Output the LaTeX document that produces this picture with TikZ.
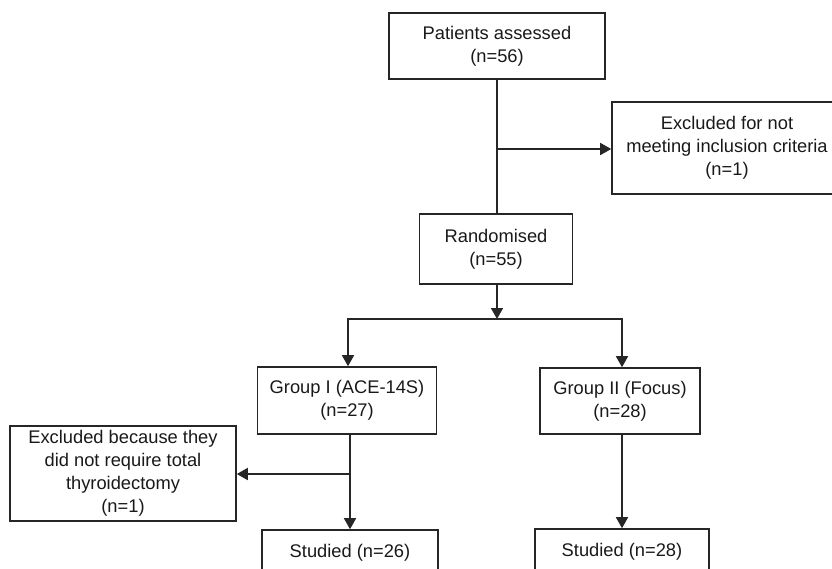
\documentclass[tikz,border=0pt]{standalone}
\usepackage{fontspec}
\setmainfont{Liberation Sans}
\usetikzlibrary{arrows.meta,calc}
\begin{document}
\begin{tikzpicture}[x=1pt,y=-1pt,
  box/.style={draw=black!85,line width=1.6pt,rectangle,align=center,inner sep=0pt,
    font=\fontsize{18.3}{23}\selectfont,text=black!90},
  conn/.style={draw=black!85,line width=1.6pt},
  arr/.style={conn,-{Triangle[length=11pt,width=12pt]}}]
\useasboundingbox (0,0) rectangle (832,568);
\clip (0,0) rectangle (832,568);
\node[box,minimum width=216,minimum height=66] (pa) at (497,46) {Patients assessed\\(n=56)};
\node[box,minimum width=230,minimum height=92] (ex1) at (727,148) {Excluded for not\\meeting inclusion criteria\\(n=1)};
\node[box,minimum width=153,minimum height=70] (rnd) at (496,249) {Randomised\\(n=55)};
\node[box,minimum width=179,minimum height=67] (g1) at (347,400.5) {Group I (ACE-14S)\\(n=27)};
\node[box,minimum width=160,minimum height=66] (g2) at (620,401) {Group II (Focus)\\(n=28)};
\node[box,minimum width=226,minimum height=95] (ex2) at (123,473.5) {Excluded because they\\did not require total\\thyroidectomy\\(n=1)};
\node[box,minimum width=176,minimum height=46] (s1) at (350,553) {Studied (n=26)};
\node[box,minimum width=174,minimum height=46] (s2) at (622,552) {Studied (n=28)};
\coordinate (b1) at (497,149);
\coordinate (sp) at (497,319);
\coordinate (b2) at (350,474);
\coordinate (c2) at (622,450);
\draw[conn] (pa.south -| b1) -- (rnd.north -| b1);
\draw[arr] (b1) -- (ex1.west |- b1);
\draw[arr] (rnd.south -| sp) -- (sp);
\draw[arr] (sp) -| ($(g1.north)+(1,0)$);
\draw[arr] (sp) -| (g2.north -| c2);
\draw[arr] (g1.south -| b2) -- (s1.north -| b2);
\draw[arr] (b2) -- (ex2.east |- b2);
\draw[arr] (g2.south -| c2) -- (s2.north -| c2);
\end{tikzpicture}
\end{document}
